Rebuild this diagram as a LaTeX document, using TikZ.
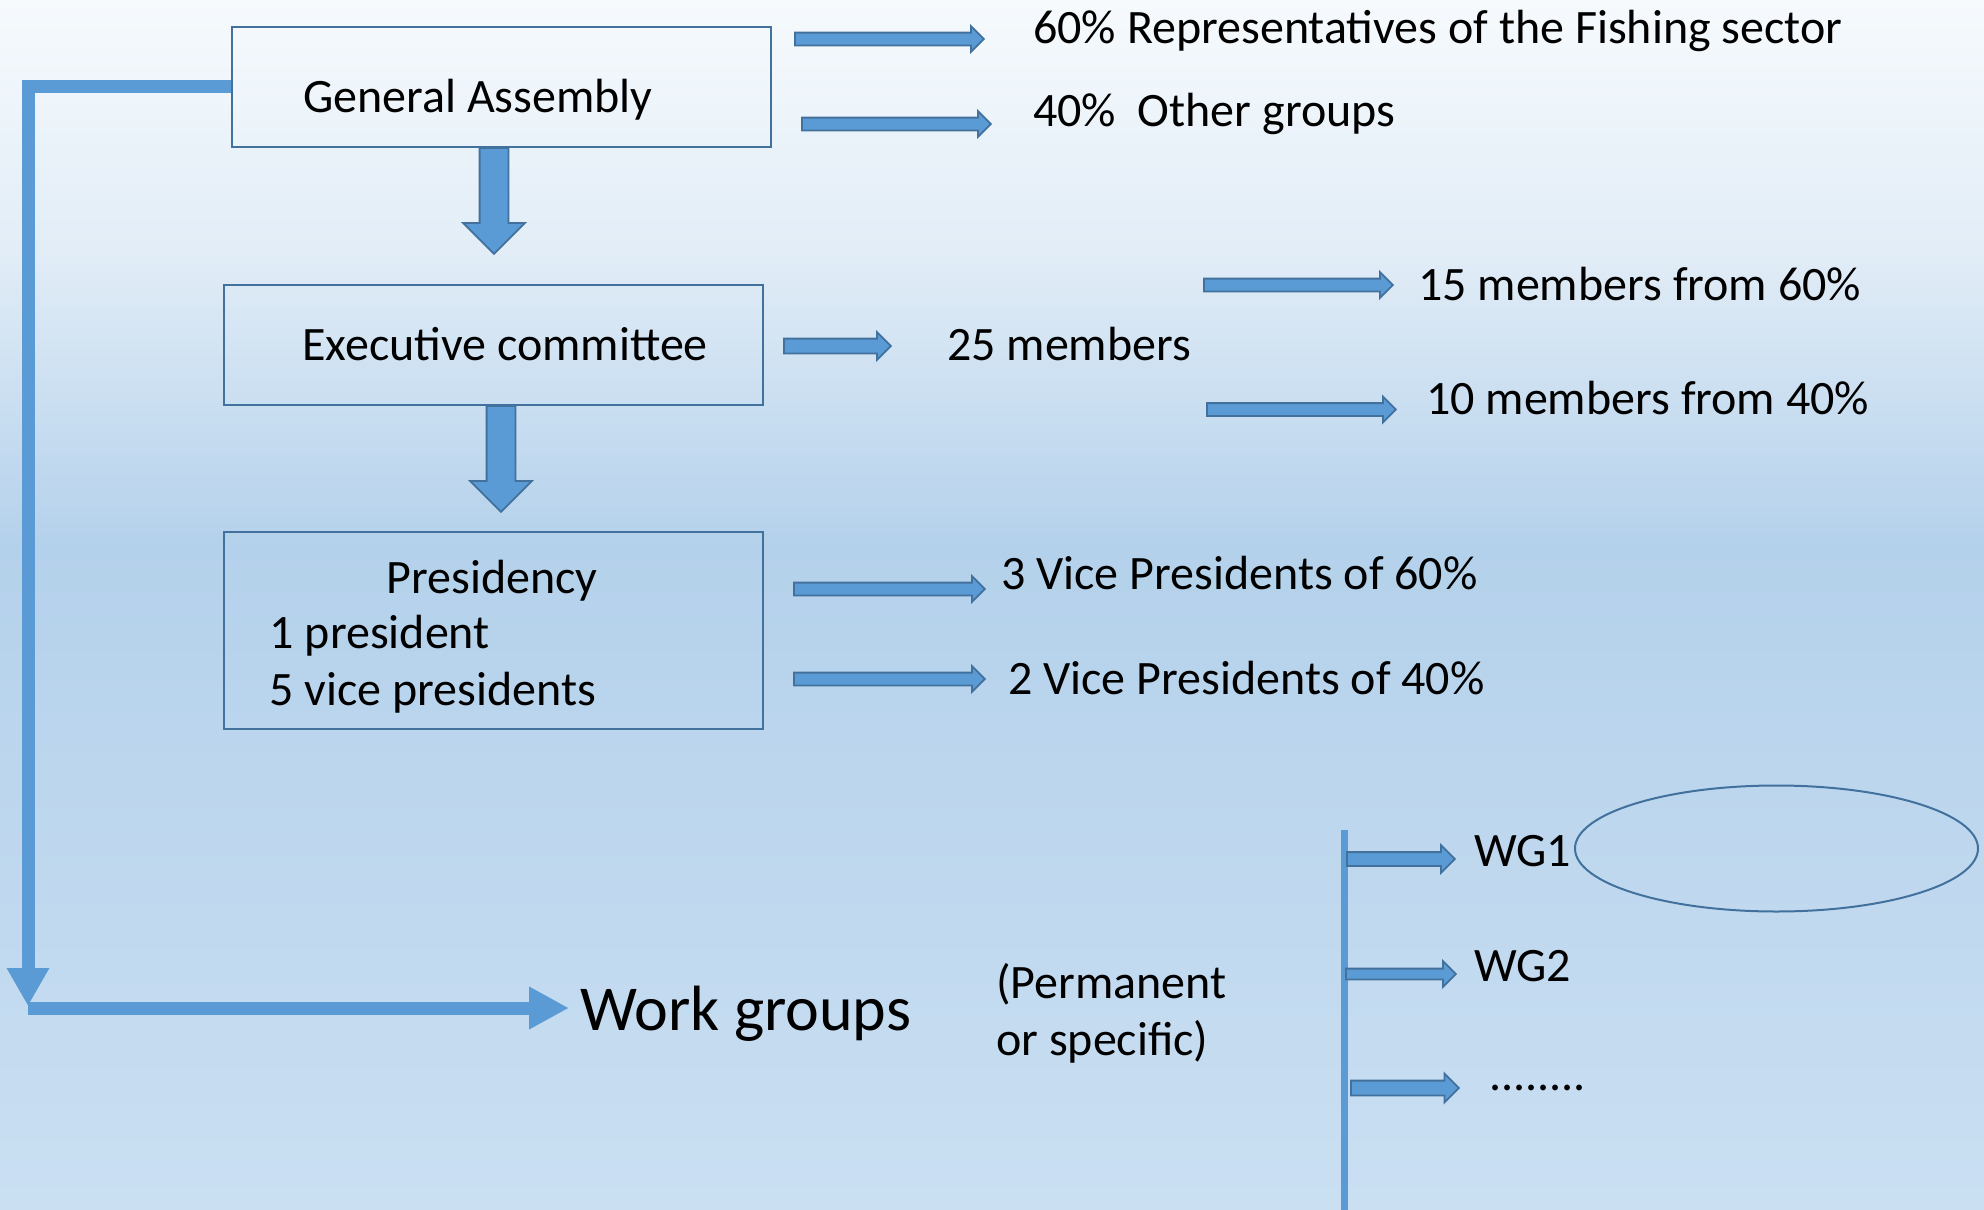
\documentclass[tikz,border=0pt]{standalone}
\usepackage{fontspec}
\setmainfont{Carlito}
\usetikzlibrary{shapes.arrows,shapes.geometric,arrows.meta}
\definecolor{afill}{HTML}{5B9BD5}
\definecolor{adraw}{HTML}{41719C}
\definecolor{bxdraw}{HTML}{41719C}
\definecolor{bgtop}{HTML}{F6FAFD}
\definecolor{bgup}{HTML}{E2EDF7}
\definecolor{bgmid}{HTML}{B4D1EB}
\definecolor{bgbot}{HTML}{CADFF2}
\pgfdeclareverticalshading{bgshade}{100bp}{color(0bp)=(bgbot); color(25bp)=(bgbot); color(52.5bp)=(bgmid); color(64.7bp)=(bgup); color(75bp)=(bgtop); color(100bp)=(bgtop)}
\begin{document}
\begin{tikzpicture}[x=1pt,y=-1pt,
  lbl/.style={font=\fontsize{48}{58}\selectfont, inner sep=0pt, anchor=base west},
  orgbox/.style={draw=bxdraw, line width=2pt, minimum width=539pt, inner sep=0pt},
  rarrow/.style={single arrow, fill=afill, draw=adraw, line width=1.8pt, inner sep=5.5pt,
    single arrow head extend=6.5pt, single arrow tip angle=90, anchor=tail, minimum height=#1},
  rarrow/.default=189pt,
  darrow/.style={single arrow, fill=afill, draw=adraw, line width=1.8pt, inner sep=13.5pt,
    single arrow head extend=16.5pt, single arrow tip angle=90, anchor=tail, rotate=-90, minimum height=#1},
  darrow/.default=108pt,
  bigline/.style={draw=afill, line width=13pt},
]
\useasboundingbox (0,0) rectangle (1984,1210);
\shade[shading=bgshade] (0,0) rectangle (1984,1210);

% boxes
\node[orgbox, minimum height=120pt] (ga) at (501,86.7) {};
\node[lbl] (gat) at (303,112) {General Assembly};
\node[orgbox, minimum height=120pt] (ec) at (493.5,345) {};
\node[lbl] (ect) at (302,360) {Executive committee};
\node[orgbox, minimum height=197pt] (pr) at (493.5,630) {};
\node[lbl, anchor=base] (prt) at (492,593) {Presidency};
\node[lbl] (pr1) at (269.5,648) {1 president};
\node[lbl] (pr2) at (269.5,705) {5 vice presidents};

% general assembly arrows
\node[rarrow=189pt] (a1) at (794,39) {};
\node[rarrow=189pt] (a2) at (801,124) {};
\node[lbl] (t1) at (1033,43) {60\% Representatives of the Fishing sector};
\node[lbl] (t2) at (1033,126) {40\%\ \ Other groups};
\node[darrow=106pt] (d1) at (494,147) {};

% executive committee arrows
\node[rarrow=107pt, inner sep=6.5pt] (a3) at (783,346) {};
\node[lbl] (t3) at (947,360) {25 members};
\node[rarrow=189pt] (a4) at (1203,285) {};
\node[lbl] (t4) at (1418,300) {15 members from 60\%};
\node[rarrow=189pt] (a5) at (1206,409.5) {};
\node[lbl] (t5) at (1426,414) {10 members from 40\%};
\node[darrow=106pt] (d2) at (501,405) {};

% presidency arrows
\node[rarrow=191pt] (a6) at (793,589) {};
\node[lbl] (t6) at (1001,589) {3 Vice Presidents of 60\%};
\node[rarrow=191pt] (a7) at (793,679) {};
\node[lbl] (t7) at (1008,694) {2 Vice Presidents of 40\%};

% work groups connector
\coordinate (corner) at (28,1006);
\draw[bigline, -{Triangle[length=38pt,width=40pt]}] (ga.west) -| (corner);
\coordinate (bstart) at (28,1008);
\node[lbl, font=\fontsize{64}{76}\selectfont] (wg) at (580,1030) {Work groups};
\draw[bigline, shorten >=11pt, -{Triangle[length=40pt,width=40pt]}] (bstart) -- (wg.west |- bstart);
\node[lbl] (perm1) at (996,998) {(Permanent};
\node[lbl] (perm2) at (996,1055) {or specific)};

% WG list
\coordinate (vtop) at (1344,830);
\coordinate (vbot) at (1344,1210);
\draw[draw=afill, line width=7pt] (vtop) -- (vbot);
\node[rarrow=108pt, inner sep=6pt, single arrow head extend=7pt] (w1) at (1346,859) {};
\node[lbl] (wg1) at (1474,866) {WG1};
\node[rarrow=110pt, inner sep=4.5pt, single arrow head extend=7.5pt] (w2) at (1345,974) {};
\node[lbl] (wg2) at (1474,981) {WG2};
\node[rarrow=108pt, inner sep=6.5pt, single arrow head extend=7pt] (w3) at (1350,1088) {};
\node[lbl] (dots) at (1489,1090) {........};
\node[draw=bxdraw, line width=2pt, ellipse, minimum width=403pt, minimum height=126pt, inner sep=0pt] (oval) at (1776.5,848.5) {};
\end{tikzpicture}
\end{document}
